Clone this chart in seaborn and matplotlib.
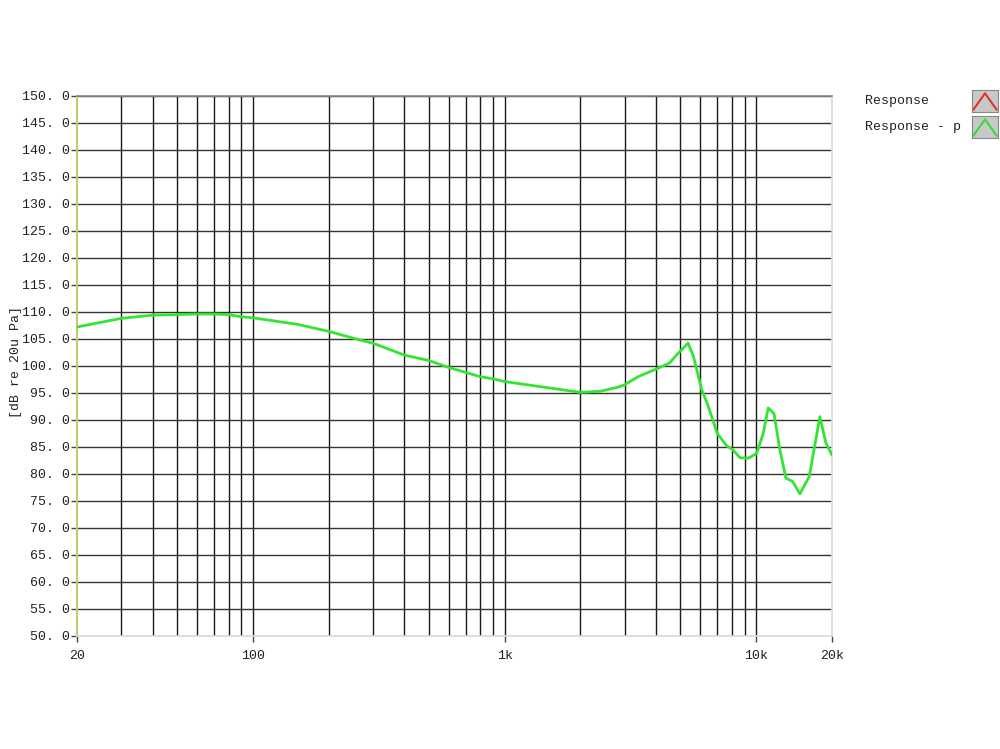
import numpy as np
import pandas as pd
import matplotlib
matplotlib.use("Agg")
import matplotlib.pyplot as plt
import seaborn as sns

# frequency response
freq = [20, 30, 40, 50, 60, 70, 80, 90, 100, 150, 200, 266, 300, 400, 500, 600,
        700, 800, 900, 1000, 2000, 2400, 2790, 3000, 3390, 4000, 4510, 4890, 5360,
        5620, 6070, 6450, 7000, 7630, 8100, 8610, 9290, 10040, 10660, 11160,
        11760, 12420, 13120, 13950, 14910, 16240, 17900, 18920, 20000]
spl = [107.2, 108.8, 109.4, 109.5, 109.6, 109.6, 109.5, 109.1, 108.9, 107.7, 106.4,
       104.8, 104.2, 102.0, 101.0, 99.7, 98.8, 98.0, 97.6, 97.1, 95.1, 95.3, 96.0,
       96.5, 98.0, 99.4, 100.5, 102.3, 104.2, 101.9, 95.6, 92.5, 87.5, 85.2, 84.4,
       83.0, 82.9, 83.8, 87.5, 92.2, 91.2, 84.4, 79.2, 78.6, 76.3, 79.5, 90.6,
       85.7, 83.5]

y_ticks = np.arange(50, 151, 5)
y_labels = ["%d. 0" % v for v in y_ticks]
x_ticks = [20, 100, 1000, 10000, 20000]
x_labels = ["20", "100", "1k", "10k", "20k"]
legend_names = ["Response", "Response - p"]
legend_colors = ["#e83030", "#33dd33"]

df = pd.DataFrame({"freq": freq, "spl": spl})

sns.set_style("white")
plt.rcParams["font.family"] = ["Liberation Mono", "DejaVu Sans"]

fig = plt.figure(figsize=(10, 7.49), dpi=100)
ax = fig.add_axes([0.077, 0.151, 0.755, 0.721])

# grid: every 1-9 multiple of each decade
minor = [m * 10 ** e for e in range(1, 5) for m in range(1, 10)]
minor = [f for f in minor if 20 < f < 20000]
for f in minor:
    ax.axvline(f, color="#1a1a1a", lw=1.0, zorder=1)
for v in y_ticks[1:]:
    ax.axhline(v, color="#333333", lw=1.0, zorder=1)

sns.lineplot(data=df, x="freq", y="spl", ax=ax, color="#33e533", lw=2.0,
             zorder=3, legend=False)

ax.set_xscale("log")
ax.set_xlim(20, 20000)
ax.set_ylim(50, 150)
ax.set_xticks(x_ticks)
ax.set_xticklabels(x_labels)
ax.xaxis.set_minor_locator(matplotlib.ticker.NullLocator())
ax.set_yticks(y_ticks)
ax.set_yticklabels(y_labels)
ax.tick_params(axis="both", which="major", direction="out", length=4,
               width=1, color="#444444", labelsize=9.5, labelcolor="#222222",
               left=True, bottom=True, pad=1)
ax.tick_params(axis="x", pad=6)
ax.set_xlabel("")
ax.set_ylabel("")
fig.text(0.016, 1 - 362 / 749, "[dB re 20u Pa]", rotation=90, fontsize=9.5,
         color="#222222", ha="center", va="center")

for side, col in [("top", "#888888"), ("right", "#d8d8d8"),
                  ("bottom", "#d8d8d8"), ("left", "#c8c870")]:
    ax.spines[side].set_visible(True)
    ax.spines[side].set_color(col)
    ax.spines[side].set_linewidth(1.5 if side == "left" else 1.2)

# legend at the right, drawn by hand
for i, (name, col) in enumerate(zip(legend_names, legend_colors)):
    yc = 1 - (101 + i * 26) / 749
    fig.text(0.865, yc, name, fontsize=9.5, color="#222222",
             va="center", ha="left")
    icon = fig.add_axes([0.972, yc - 0.0147, 0.026, 0.0294])
    icon.set_facecolor("#c8c8c8")
    icon.plot([0.05, 0.5, 0.95], [0.1, 0.85, 0.1], color=col, lw=1.5)
    icon.set_xlim(0, 1)
    icon.set_ylim(0, 1)
    icon.set_xticks([])
    icon.set_yticks([])
    for s in icon.spines.values():
        s.set_color("#888888")
        s.set_linewidth(0.8)

fig.savefig("out.png", dpi=100)
